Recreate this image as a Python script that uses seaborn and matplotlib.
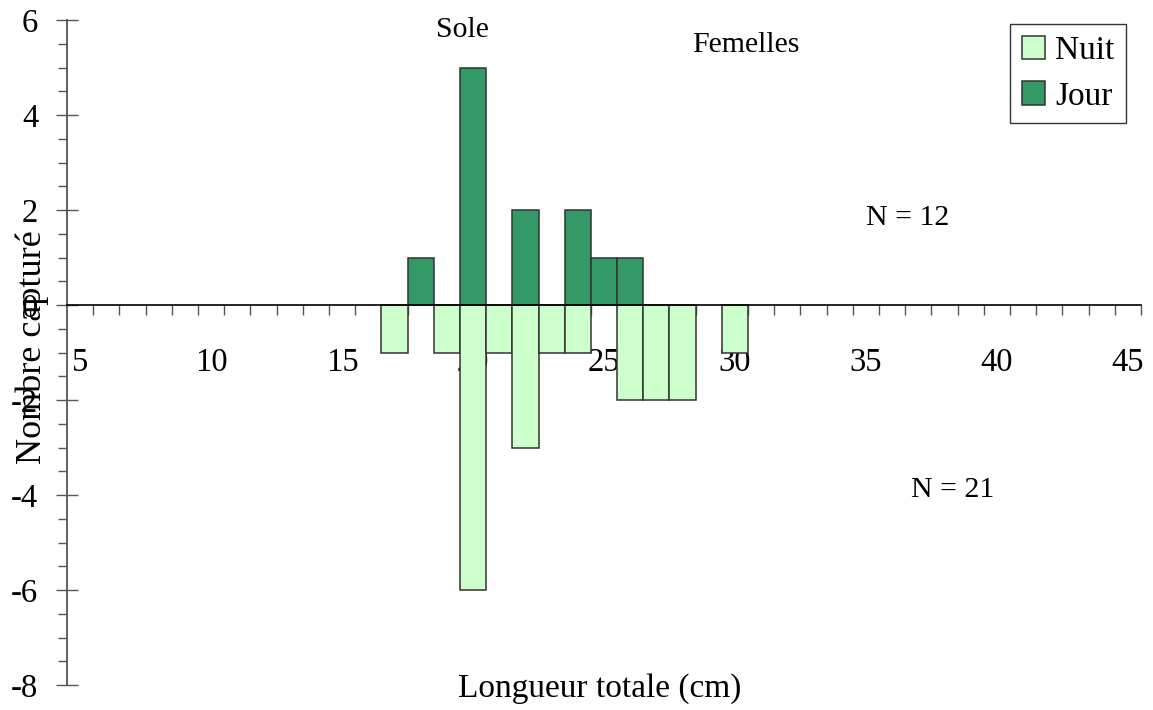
import numpy as np
import pandas as pd
import matplotlib
matplotlib.use("Agg")
import matplotlib.pyplot as plt
import seaborn as sns
from matplotlib.patches import Patch

# ---- data ----
nuit_lengths = [17, 19, 20, 21, 22, 23, 24, 26, 27, 28, 30]
nuit_counts = [-1, -1, -6, -1, -3, -1, -1, -2, -2, -2, -1]
jour_lengths = [18, 20, 22, 24, 25, 26]
jour_counts = [1, 5, 2, 2, 1, 1]
series = ["Nuit", "Jour"]
x_tick_labels = [5, 10, 15, 20, 25, 30, 35, 40, 45]
y_tick_values = [-8, -6, -4, -2, 0, 2, 4, 6]
title_text = "Sole"
subtitle_text = "Femelles"
n_jour_text = "N = 12"
n_nuit_text = "N = 21"
x_label = "Longueur totale (cm)"
y_label = "Nombre capturé"

colors = {"Nuit": "#CCFFCC", "Jour": "#339966"}

df = pd.DataFrame({
    "length": nuit_lengths + jour_lengths,
    "count": nuit_counts + jour_counts,
    "period": ["Nuit"] * len(nuit_lengths) + ["Jour"] * len(jour_lengths),
})

sns.set_style("ticks")
plt.rcParams["font.family"] = ["Liberation Serif", "DejaVu Serif"]
plt.rcParams["text.color"] = "black"
plt.rcParams["axes.labelcolor"] = "black"
plt.rcParams["xtick.labelcolor"] = "black"
plt.rcParams["ytick.labelcolor"] = "black"

W, H = 1153, 710
fig = plt.figure(figsize=(W / 100, H / 100), dpi=100)
ax = fig.add_axes([67 / W, 25 / H, 1074 / W, 665 / H])

sns.barplot(data=df, x="length", y="count", hue="period", hue_order=series,
            palette=colors, native_scale=True, dodge=False, width=1,
            errorbar=None, saturation=1, edgecolor="#333333", linewidth=1.1,
            zorder=2, legend=False, ax=ax)

ax.set_xlim(4.5, 45.5)
ax.set_ylim(-8, 6)

for s in ["top", "right"]:
    ax.spines[s].set_visible(False)
ax.spines["bottom"].set_position(("data", 0))
ax.spines["bottom"].set_color("black")
ax.spines["bottom"].set_linewidth(1.2)
ax.spines["bottom"].set_zorder(3)
ax.spines["left"].set_color("#555555")
ax.spines["left"].set_linewidth(1.3)

# x ticks
ax.set_xticks(x_tick_labels, labels=[str(v) for v in x_tick_labels])
ax.set_xticks(np.arange(5.5, 46, 1), minor=True)
ax.tick_params(axis="x", which="major", length=0, pad=30.5, labelsize=23.5,
               bottom=True, labelcolor="black")
ax.tick_params(axis="x", which="minor", length=7.5, width=1, direction="out",
               color="#555555", bottom=True)

# y ticks
ax.set_yticks(y_tick_values, labels=[str(v) for v in y_tick_values])
ax.set_yticks(np.arange(-8, 6.01, 0.5), minor=True)
ax.tick_params(axis="y", which="major", direction="inout", length=16.5,
               width=1, pad=12.5, labelsize=23.5, color="#555555", left=True,
               labelcolor="black")
ax.tick_params(axis="y", which="minor", direction="out", length=6.5,
               width=1, color="#555555", left=True)

ax.set_xlabel(x_label, fontsize=24, color="black")
ax.xaxis.set_label_coords(0.496, -0.005)
ax.xaxis.label.set_va("center")
ax.set_ylabel(y_label, fontsize=26, color="black")
ax.yaxis.set_label_coords(-0.032, 0.508)
ax.yaxis.label.set_va("center")

ax.text(19.6, 5.79, title_text, ha="center", va="center", fontsize=21.5, color="black")
ax.text(30.4, 5.47, subtitle_text, ha="center", va="center", fontsize=21.5, color="black")
ax.text(36.6, 1.83, n_jour_text, ha="center", va="center", fontsize=21.5, color="black")
ax.text(38.3, -3.89, n_nuit_text, ha="center", va="center", fontsize=21.5, color="black")

handles = [Patch(facecolor=colors[s], edgecolor="#333333", linewidth=1.1, label=s)
           for s in series]
leg = ax.legend(handles=handles, loc="upper right",
                bbox_to_anchor=(1126 / W, 1 - 24 / H),
                bbox_transform=fig.transFigure, borderaxespad=0,
                frameon=True, fancybox=False, edgecolor="#333333",
                framealpha=1, prop={"family": "Liberation Serif", "size": 24},
                handlelength=0.7, handleheight=0.7, handletextpad=0.3,
                labelspacing=0.45, borderpad=0.35)
leg.get_frame().set_linewidth(1)
for t in leg.get_texts():
    t.set_color("black")

fig.savefig("out.png", dpi=100)
